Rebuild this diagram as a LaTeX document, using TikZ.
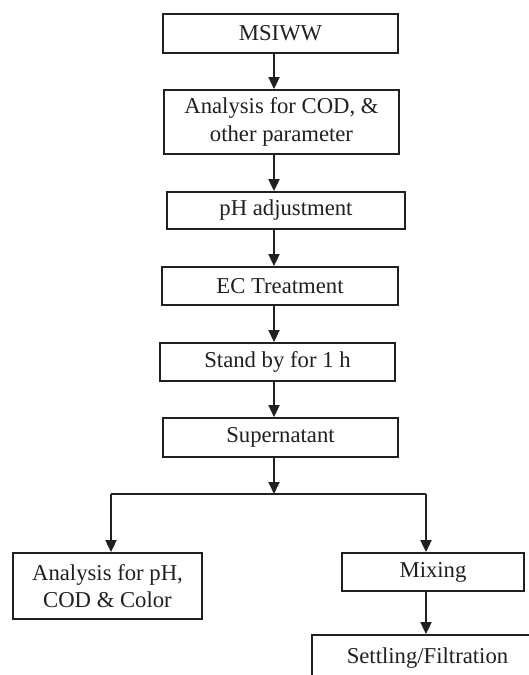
\documentclass[tikz,border=0pt]{standalone}
\usepackage{fontspec}
\setmainfont{Liberation Serif}
\usetikzlibrary{arrows.meta}
\definecolor{ink}{HTML}{231F20}
\tikzset{
  box/.style={draw=ink, line width=1.8pt, rectangle, inner sep=0pt, align=center,
    text=ink, font=\fontsize{22.7}{27.5}\selectfont},
  flow/.style={draw=ink, line width=1.8pt, -{Triangle[length=12pt,width=11pt]}},
  plain/.style={draw=ink, line width=1.8pt},
}
\begin{document}
\begin{tikzpicture}[x=1pt,y=-1pt]
\clip (0,0) rectangle (529,675);
\fill[white] (0,0) rectangle (529,675);
\node[box, minimum width=235pt, minimum height=39pt] (msiww) at (280.5,33.5) {MSIWW};
\node[box, minimum width=235pt, minimum height=64pt] (anal) at (281.5,122) {Analysis for COD, \&\\other parameter};
\node[box, minimum width=238pt, minimum height=37pt] (ph) at (286,210.5) {pH adjustment};
\node[box, minimum width=236pt, minimum height=38pt] (ec) at (280,286) {EC Treatment};
\node[box, minimum width=235pt, minimum height=38pt] (stand) at (277.5,362) {Stand by for 1 h};
\node[box, minimum width=235pt, minimum height=39pt] (super) at (280.5,437.5) {Supernatant};
\node[box, minimum width=189pt, minimum height=66pt] (res) at (107.5,586) {Analysis for pH,\\COD \& Color};
\node[box, minimum width=182pt, minimum height=38pt] (mix) at (433,572) {Mixing};
\node[box, minimum width=231pt, minimum height=46pt] (settle) at (427.5,658) {Settling/Filtration};
\coordinate (col) at (274,0);
\coordinate (split) at (274,494);
\coordinate (sl) at (111,494);
\coordinate (sr) at (426,494);
\draw[flow] (msiww.south -| col) -- (anal.north -| col);
\draw[flow] (anal.south -| col) -- (ph.north -| col);
\draw[flow] (ph.south -| col) -- (ec.north -| col);
\draw[flow] (ec.south -| col) -- (stand.north -| col);
\draw[flow] (stand.south -| col) -- (super.north -| col);
\draw[flow] (super.south -| split) -- (split);
\draw[plain] (sl) -- (sr);
\draw[flow] (sl) -- (res.north -| sl);
\draw[flow] (sr) -- (mix.north -| sr);
\draw[flow] (mix.south -| sr) -- (settle.north -| sr);
\end{tikzpicture}
\end{document}
